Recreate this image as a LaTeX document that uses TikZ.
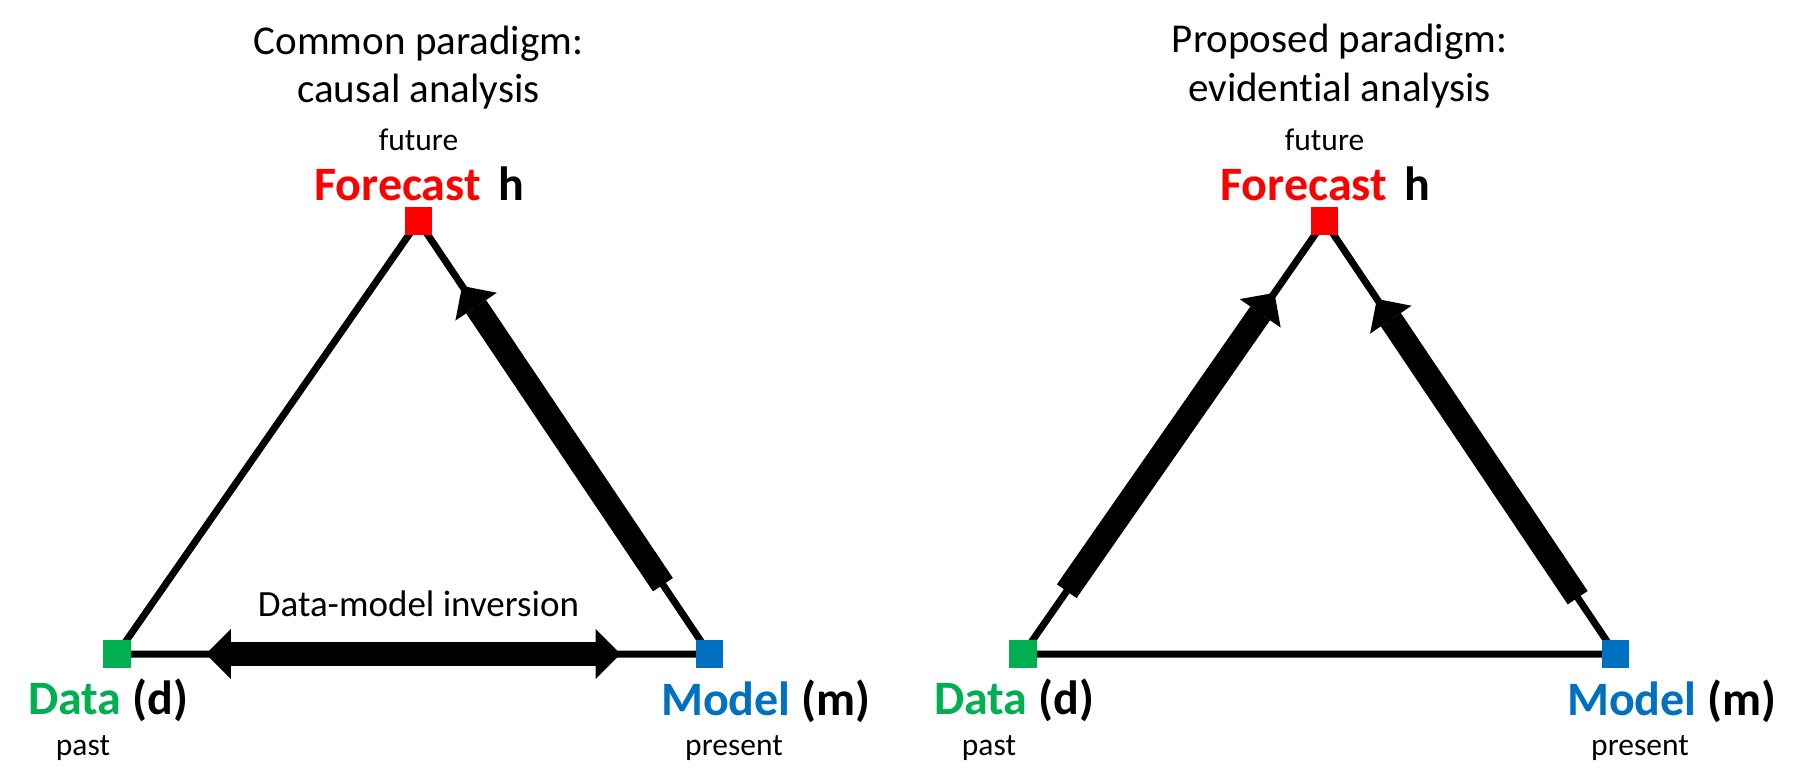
\documentclass[tikz,border=0pt]{standalone}
\usepackage{fontspec}
\setmainfont{Carlito}[Ligatures=NoCommon]
\usetikzlibrary{arrows.meta,backgrounds,calc}
\definecolor{fcred}{RGB}{255,0,0}
\definecolor{dtgreen}{RGB}{0,176,80}
\definecolor{mdblue}{RGB}{0,112,192}
\tikzset{bigtip/.tip={Triangle[width=50pt,length=25pt,line width=0pt]}}

\begin{document}
\begin{tikzpicture}[x=1pt, y=-1pt,
corner/.style={draw=none, minimum size=27.5pt, inner sep=0pt},
rim/.style={line width=7pt},
push/.style={line width=24pt, -bigtip},
headline/.style={font=\fontsize{41}{49}\selectfont, anchor=base, inner sep=0pt},
epoch/.style={font=\fontsize{31.5}{38}\selectfont, anchor=base, inner sep=0pt},
vname/.style={font=\bfseries\fontsize{48}{57}\selectfont, anchor=base, inner sep=0pt},
]
\useasboundingbox (0,0) rectangle (1812,783);

\foreach \p/\dx in {1/0,2/906}{
  \node[corner, fill=dtgreen] (D\p) at (117+\dx,654) {};
  \node[corner, fill=mdblue] (M\p) at (709.5+\dx,654) {};
  \node[corner, fill=fcred] (F\p) at (418.5+\dx,221) {};
  \begin{scope}[on background layer]
    \draw[rim] (D\p.center) -- (F\p.center) -- (M\p.center) -- cycle;
  \end{scope}
  \node[vname, anchor=base west] (DL\p) at (28+\dx,714) {\textcolor{dtgreen}{Data} (d)};
  \node[vname, anchor=base west] (ML\p) at (661+\dx,715) {\textcolor{mdblue}{Model} (m)};
  \node[vname] (FL\p) at (419.5+\dx,201) {\textcolor{fcred}{Forecast}\hspace{18pt}h};
  \node[epoch] (past\p) at (83+\dx,755) {past};
  \node[epoch] (present\p) at (734+\dx,755) {present};
  \node[epoch] (future\p) at (418.5+\dx,151) {future};
}

\node[headline] (top1) at (418.5,55) {Common paradigm:};
\node[headline] (sub1) at (418.5,103) {causal analysis};
\node[headline] (top2) at (1339.5,53) {Proposed paradigm:};
\node[headline] (sub2) at (1339.5,102) {evidential analysis};

\draw[push] ($(M1)!0.16!(F1)$) -- ($(M1)!0.85!(F1)$);
\draw[push, bigtip-bigtip] ($(D1)!0.15!(M1)$) -- ($(D1)!0.85!(M1)$);
\node[font=\fontsize{37}{44}\selectfont, anchor=base, inner sep=0pt] (inv) at (418.5,616) {Data-model inversion};

\draw[push] ($(D2)!0.145!(F2)$) -- ($(D2)!0.834!(F2)$);
\draw[push] ($(M2)!0.13!(F2)$) -- ($(M2)!0.82!(F2)$);

\end{tikzpicture}
\end{document}
